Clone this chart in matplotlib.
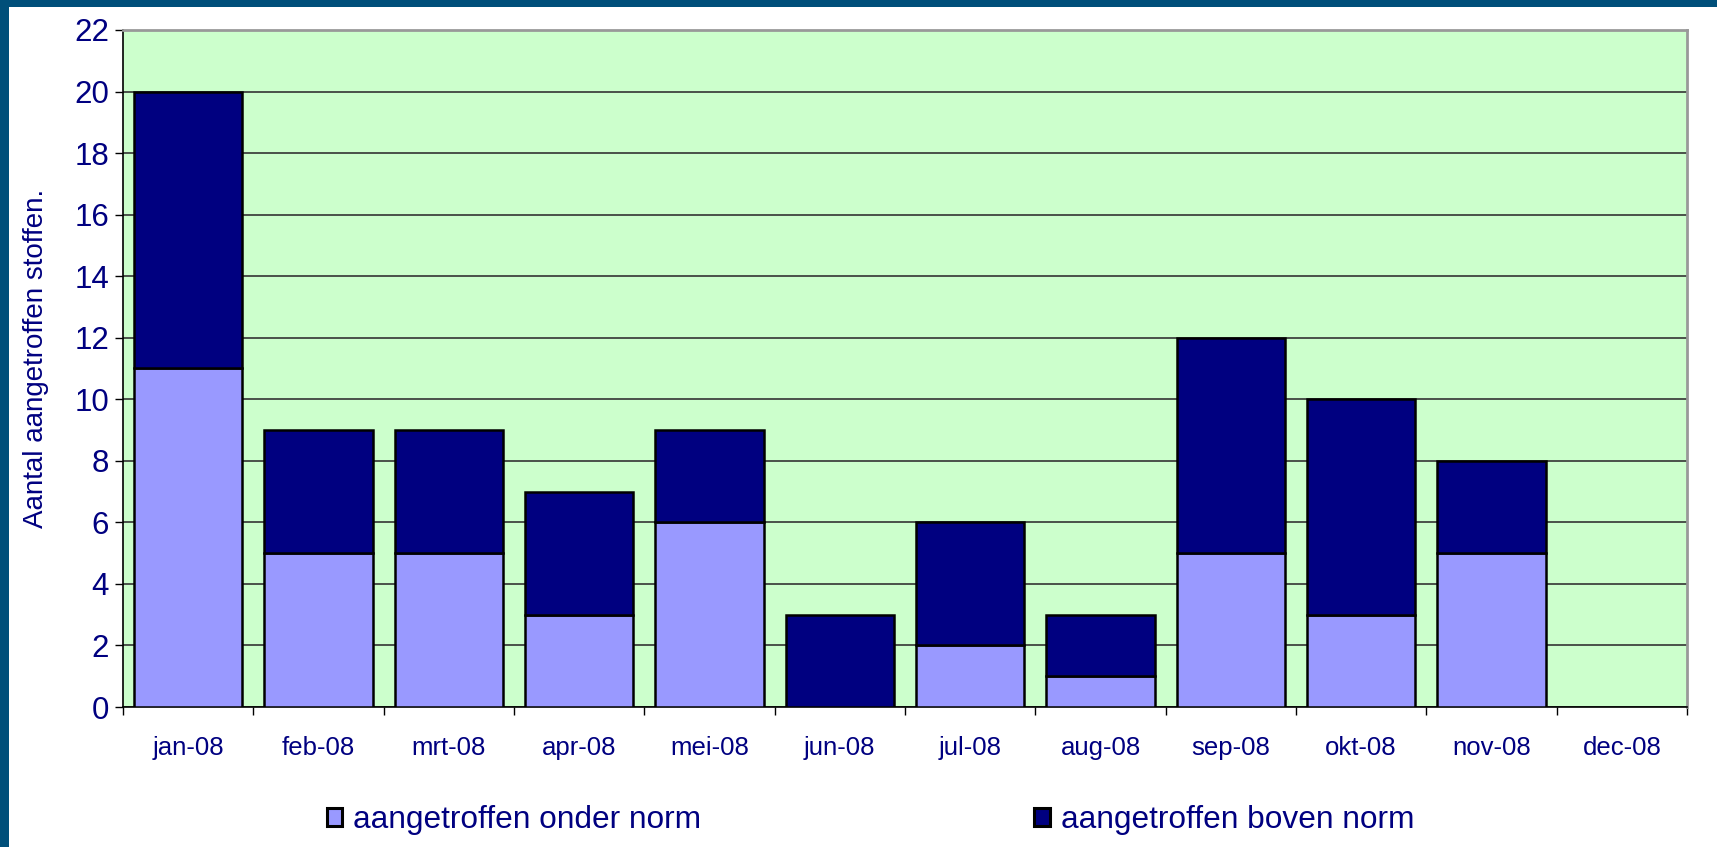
import numpy as np
import matplotlib
matplotlib.use("Agg")
import matplotlib.pyplot as plt
from matplotlib.patches import Rectangle

plt.rcParams['font.family'] = ['Liberation Sans', 'DejaVu Sans']

# data
months = ['jan-08', 'feb-08', 'mrt-08', 'apr-08', 'mei-08', 'jun-08',
          'jul-08', 'aug-08', 'sep-08', 'okt-08', 'nov-08', 'dec-08']
onder_norm = [11, 5, 5, 3, 6, 0, 2, 1, 5, 3, 5, 0]
boven_norm = [9, 4, 4, 4, 3, 3, 4, 2, 7, 7, 3, 0]
y_ticks = list(range(0, 23, 2))

navy = '#000080'
W, H = 1717, 847

fig = plt.figure(figsize=(W / 100, H / 100), dpi=100)
fig.patch.set_facecolor('white')

# dark blue frame on top and left
fig.patches.append(Rectangle((0, 1 - 7 / H), 1, 7 / H, transform=fig.transFigure,
                             facecolor='#004F7A', edgecolor='none', zorder=0))
fig.patches.append(Rectangle((0, 0), 9 / W, 1, transform=fig.transFigure,
                             facecolor='#004F7A', edgecolor='none', zorder=0))

left, right, top, bottom = 123, 1687, 30, 707
ax = fig.add_axes([left / W, 1 - bottom / H, (right - left) / W, (bottom - top) / H])
ax.set_facecolor('#CCFFCC')

x = np.arange(len(months))
onder = np.array(onder_norm)
boven = np.array(boven_norm)
bw = 0.83
keep1 = onder > 0
keep2 = boven > 0
b1 = ax.bar(x[keep1], onder[keep1], width=bw, color='#9999FF', edgecolor='black',
            linewidth=1.8, zorder=3, label='aangetroffen onder norm')
b2 = ax.bar(x[keep2], boven[keep2], width=bw, bottom=onder[keep2], color=navy,
            edgecolor='black', linewidth=1.8, zorder=3, label='aangetroffen boven norm')

ax.set_xlim(-0.5, len(months) - 0.5)
ax.set_ylim(0, 22)
ax.set_yticks(y_ticks)
ax.set_yticklabels([str(v) for v in y_ticks])
ax.yaxis.grid(True, color='#333333', linewidth=1.2, zorder=1)
ax.set_axisbelow(True)

# ticks between categories, labels centered
ax.set_xticks(np.arange(-0.5, len(months), 1.0))
ax.set_xticklabels([])
ax.set_xticks(x, minor=True)
ax.set_xticklabels(months, minor=True)
ax.tick_params(axis='x', which='minor', length=0, pad=21, labelsize=18.5, labelcolor=navy)
ax.tick_params(axis='x', which='major', length=6, width=1, color='black')
ax.tick_params(axis='y', length=6, width=1, color='black', labelsize=22.5,
               labelcolor=navy, pad=4)

for s in ['left', 'bottom']:
    ax.spines[s].set_color('black')
    ax.spines[s].set_linewidth(1.2)
for s in ['top', 'right']:
    ax.spines[s].set_color('#999999')
    ax.spines[s].set_linewidth(2)

fig.text(36 / W, 1 - 358 / H, 'Aantal aangetroffen stoffen.', rotation=90,
         ha='center', va='center', fontsize=20, color=navy)

leg = fig.legend(handles=[b1, b2], loc='center', bbox_to_anchor=(0.507, 1 - 820 / H),
                 ncol=2, frameon=False, fontsize=22.8, handlelength=0.5, handleheight=0.5,
                 handletextpad=0.35, columnspacing=10.5, labelcolor=navy)
for h in leg.legend_handles:
    h.set_linewidth(2.2)

fig.savefig('out.png', dpi=100, facecolor=fig.get_facecolor())
